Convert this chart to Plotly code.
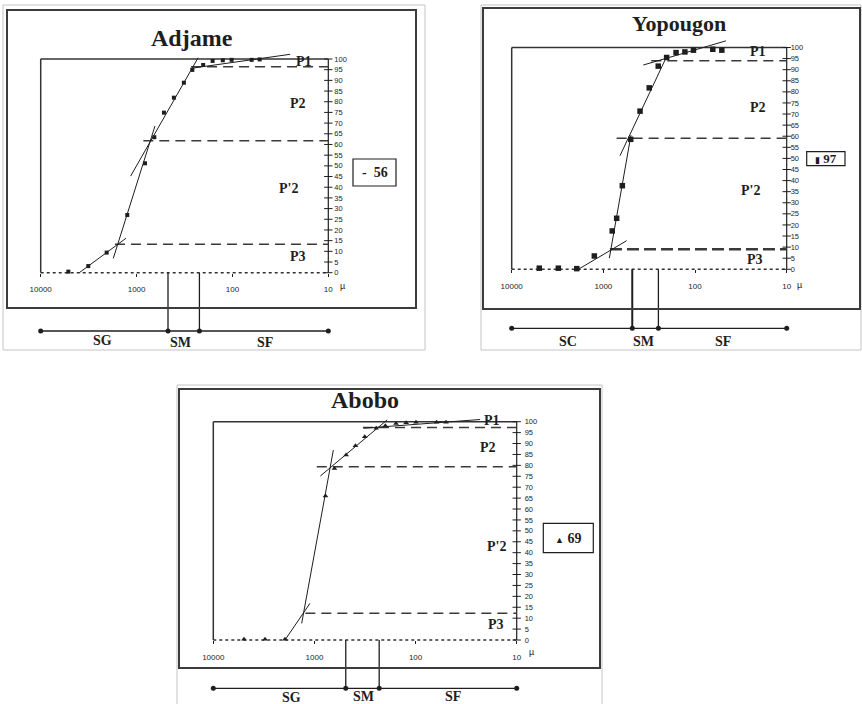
import plotly.graph_objects as go

W, H = 862, 704

# ---------------- data ----------------
titles = ["Adjame", "Yopougon", "Abobo"]
legend_values = ["56", "97", "69"]
class_labels = [["SG", "SM", "SF"], ["SC", "SM", "SF"], ["SG", "SM", "SF"]]
segment_labels = ["P1", "P2", "P'2", "P3"]

x_tick_values = [10000, 1000, 100, 10]
x_tick_labels = ["10000", "1000", "100", "10"]
y_tick_values = list(range(0, 101, 5))
x_limits = [10000, 10]

# grain size (µm) and cumulative percentage
adjame_size = [5150, 3190, 2050, 1250, 817, 653, 518, 408, 321, 262, 202, 161, 126, 102, 63, 52]
adjame_pct = [0.5, 3.1, 9.4, 27, 51.2, 63.4, 74.9, 81.9, 88.9, 94.9, 97.2, 99.1, 99.4, 99.6, 99.6, 99.8]

yopougon_size = [5000, 3100, 1950, 1255, 800, 716, 621, 503, 398, 316, 252, 204, 161, 129, 104, 64, 51]
yopougon_pct = [0.5, 0.5, 0.3, 6.0, 17.3, 23, 37.7, 58.6, 71.3, 81.8, 91.6, 95.5, 97.7, 98, 98.8, 99.2, 98.8]

abobo_size = [4970, 3080, 1955, 778, 634, 486, 393, 318, 245, 199, 156, 124, 99, 62, 50]
abobo_pct = [0.3, 0.3, 0.3, 66, 78.6, 84.7, 89, 93.1, 97, 98.1, 99.2, 99.5, 99.7, 99.8, 99.8]

# tangent segments P1, P2, P'2, P3 : sizes (start, end) and percentages (start, end)
adjame_tan_size = [[273, 25], [1153, 228], [1750, 643], [3960, 1290]]
adjame_tan_pct = [[95.6, 102.2], [45.2, 100.6], [6.7, 68.6], [0, 16.1]]
yopougon_tan_size = [[367, 46], [659, 204], [861, 500], [1875, 557]]
yopougon_tan_pct = [[92.1, 103], [51.2, 95.9], [5.0, 60.5], [0, 12.9]]
abobo_tan_size = [[327, 23], [875, 191], [1337, 650], [1954, 1107]]
abobo_tan_pct = [[97, 101], [75.1, 100.8], [7.6, 87], [0, 16.8]]

# dashed limit levels (percent) and the size where each starts
adjame_limit_pct = [96.4, 61.8, 13.3]
adjame_limit_from = [270, 850, 1680]
yopougon_limit_pct = [94.0, 59.1, 9.0]
yopougon_limit_from = [300, 716, 847]
abobo_limit_pct = [97.3, 79.4, 12.2]
abobo_limit_from = [331, 948, 1230]

# SG / SM / SF boundaries (µm)
adjame_sm = [470, 221]
yopougon_sm = [484, 251]
abobo_sm = [490, 229]

# ---------------- layout geometry (pixels) ----------------
SERIF = "Liberation Serif, Times New Roman, serif"
SANS = "Liberation Sans, Arial, sans-serif"
INK = "#1e1e1e"

panels = [
    dict(size=adjame_size, pct=adjame_pct, tan_s=adjame_tan_size, tan_p=adjame_tan_pct,
         lim_p=adjame_limit_pct, lim_s=adjame_limit_from, sm=adjame_sm,
         marker=dict(symbol="square", size=4, color=INK),
         legend_html="<b>-</b>  <b>56</b>", title_size=24,
         xL=40.7, xR=328.3, y0=272.7, y100=59.0, dom=(25, 348, 42, 348), bar=331.0,
         outer=(3, 5, 425, 350), frame=(7, 10, 416, 308), title_xy=(192, 38),
         legend_box=(353, 159, 396, 186), label_xy=[(304, 61), (298, 104), (288, 188), (298, 257)],
         class_xy=[(102.7, 340), (180, 342.5), (265, 342.5)], mu_xy=(342.7, 286),
         ystandoff=5, dash_w=[1.5, 1.5, 1.5]),
    dict(size=yopougon_size, pct=yopougon_pct, tan_s=yopougon_tan_size, tan_p=yopougon_tan_pct,
         lim_p=yopougon_limit_pct, lim_s=yopougon_limit_from, sm=yopougon_sm,
         marker=dict(symbol="square", size=5.5, color=INK),
         legend_html="<span style='font-size:9px'>▮</span> <b>97</b>", title_size=22,
         xL=511.7, xR=786.7, y0=269.3, y100=47.5, dom=(495, 805, 32, 348), bar=328.3,
         outer=(481, 5, 861, 350), frame=(483, 8, 860, 309), title_xy=(679, 24),
         legend_box=(806.7, 151.7, 845, 165.7), label_xy=[(758, 52), (758, 107), (750, 191), (755, 259)],
         class_xy=[(568.3, 341.7), (643.3, 341.7), (723.3, 341.7)], mu_xy=(799.3, 285),
         ystandoff=3, dash_w=[1.5, 1.5, 2.5]),
    dict(size=abobo_size, pct=abobo_pct, tan_s=abobo_tan_size, tan_p=abobo_tan_pct,
         lim_p=abobo_limit_pct, lim_s=abobo_limit_from, sm=abobo_sm,
         marker=dict(symbol="triangle-up", size=5, color=INK),
         legend_html="<span style='font-size:9px'>▲</span> <b>69</b>", title_size=24,
         xL=213.3, xR=516.7, y0=640.0, y100=421.7, dom=(198, 535, 410, 702), bar=688.3,
         outer=(177, 385, 602, 710), frame=(179, 389, 600, 668), title_xy=(364.7, 400),
         legend_box=(543.3, 523.3, 593.3, 552.7), label_xy=[(491.7, 420), (488.3, 447.3), (496.7, 546.7), (496, 624.3)],
         class_xy=[(291.7, 697), (363, 696), (453, 696)], mu_xy=(531, 652.3),
         ystandoff=7, dash_w=[1.5, 1.5, 1.5]),
]


def fx(px):
    return px / W


def fy(py):
    return 1 - py / H


fig = go.Figure()
shapes = []
annotations = []
layout_axes = {}

for i, g in enumerate(panels):
    s = "" if i == 0 else str(i + 1)
    xa, ya = "x" + s, "y" + s
    ppd = (g["xR"] - g["xL"]) / 3.0          # pixels per decade
    ppu = (g["y0"] - g["y100"]) / 100.0      # pixels per percent
    l, r, t, b = g["dom"]

    def lg(px):
        return 4 - (px - g["xL"]) / ppd

    def pc(py):
        return (g["y0"] - py) / ppu

    bar_p = pc(g["bar"])

    layout_axes["xaxis" + s] = dict(
        type="log", domain=[fx(l), fx(r)], range=[lg(l), lg(r)],
        anchor="free", position=fy(g["y0"]), showgrid=False, zeroline=False, showline=False,
        tickvals=x_tick_values, ticktext=x_tick_labels, ticks="outside", ticklen=3,
        tickcolor=INK, ticklabelstandoff=6, tickfont=dict(size=8, family=SANS, color=INK),
        fixedrange=True)
    layout_axes["yaxis" + s] = dict(
        domain=[fy(b), fy(t)], range=[pc(b), pc(t)], anchor="free", position=fx(g["xR"]),
        side="right", showgrid=False, zeroline=False, showline=False, tickvals=y_tick_values,
        ticks="", ticklabelstandoff=g["ystandoff"],
        tickfont=dict(size=7.5, family=SANS, color=INK), fixedrange=True)

    def line(xs, ys, width=1.0, dash="solid", color=INK):
        fig.add_trace(go.Scatter(x=xs, y=ys, mode="lines", xaxis=xa, yaxis=ya,
                                 line=dict(color=color, width=width, dash=dash),
                                 hoverinfo="skip", showlegend=False))

    # plot frame: top, left, right axis and dotted zero line
    line(x_limits, [100, 100], width=1.5, color="#333")
    line([x_limits[0], x_limits[0]], [0, 100], width=1.5, color="#333")
    line([x_limits[1], x_limits[1]], [0, 100], width=1.2, color=INK)
    line(x_limits, [0, 0], width=1.5, dash="3px,3px", color="#333")

    # tick crosses on the right axis
    fig.add_trace(go.Scatter(x=[x_limits[1]] * len(y_tick_values), y=y_tick_values, mode="markers",
                             xaxis=xa, yaxis=ya, cliponaxis=False, hoverinfo="skip", showlegend=False,
                             marker=dict(symbol="line-ew", size=6, line=dict(width=1, color=INK))))

    # dashed limits
    for k, (lp, ls) in enumerate(zip(g["lim_p"], g["lim_s"])):
        dash = "12px,5px" if g["dash_w"][k] > 2 else "10px,6px"
        line([ls, x_limits[1]], [lp, lp], width=g["dash_w"][k], dash=dash, color="#3a3a3a")

    # tangent segments
    for ss, pp in zip(g["tan_s"], g["tan_p"]):
        line(ss, pp, width=1.0, color=INK)

    # data points
    fig.add_trace(go.Scatter(x=g["size"], y=g["pct"], mode="markers", xaxis=xa, yaxis=ya,
                             cliponaxis=False, marker=g["marker"], hoverinfo="skip", showlegend=False))

    # SG / SM / SF bar
    for v in g["sm"]:
        line([v, v], [0, bar_p], width=2.0 if i == 1 and v == g["sm"][0] else 1.3, color=INK)
    bar_x = [x_limits[0]] + g["sm"] + [x_limits[1]]
    fig.add_trace(go.Scatter(x=bar_x, y=[bar_p] * len(bar_x), mode="lines+markers", xaxis=xa, yaxis=ya,
                             cliponaxis=False, line=dict(color=INK, width=1.3),
                             marker=dict(size=5, color=INK), hoverinfo="skip", showlegend=False))

    # frames
    x0, y0, x1, y1 = g["outer"]
    shapes.append(dict(type="rect", xref="paper", yref="paper", x0=fx(x0), x1=fx(x1), y0=fy(y1), y1=fy(y0),
                       line=dict(color="#c4c4c4", width=1)))
    x0, y0, x1, y1 = g["frame"]
    shapes.append(dict(type="rect", xref="paper", yref="paper", x0=fx(x0), x1=fx(x1), y0=fy(y1), y1=fy(y0),
                       line=dict(color="#3c3c3c", width=2)))
    x0, y0, x1, y1 = g["legend_box"]
    shapes.append(dict(type="rect", xref="paper", yref="paper", x0=fx(x0), x1=fx(x1), y0=fy(y1), y1=fy(y0),
                       line=dict(color=INK, width=1.2), fillcolor="white"))

    def text(xy, txt, size, family=SERIF, bold=True):
        annotations.append(dict(x=fx(xy[0]), y=fy(xy[1]), xref="paper", yref="paper", text=(f"<b>{txt}</b>" if bold else txt),
                                showarrow=False, xanchor="center", yanchor="middle",
                                font=dict(size=size, family=family, color=INK)))

    text(g["title_xy"], titles[i], g["title_size"])
    for lab, xy in zip(segment_labels, g["label_xy"]):
        text(xy, lab, 14)
    for lab, xy in zip(class_labels[i], g["class_xy"]):
        text(xy, lab, 14)
    text(g["mu_xy"], "µ", 9, family=SANS, bold=False)
    bx0, by0, bx1, by1 = g["legend_box"]
    annotations.append(dict(x=fx((bx0 + bx1) / 2), y=fy((by0 + by1) / 2), xref="paper", yref="paper",
                            text=g["legend_html"], showarrow=False, xanchor="center", yanchor="middle",
                            font=dict(size=14 if i != 1 else 13, family=SERIF, color=INK)))

fig.update_layout(
    width=W, height=H, autosize=False,
    margin=dict(l=0, r=0, t=0, b=0),
    paper_bgcolor="white", plot_bgcolor="rgba(0,0,0,0)",
    showlegend=False, shapes=shapes, annotations=annotations,
    **layout_axes,
)

fig.write_html("out.html", config={"displayModeBar": False, "staticPlot": True},
               post_script="document.body.style.margin='0px';document.body.style.overflow='hidden';")
